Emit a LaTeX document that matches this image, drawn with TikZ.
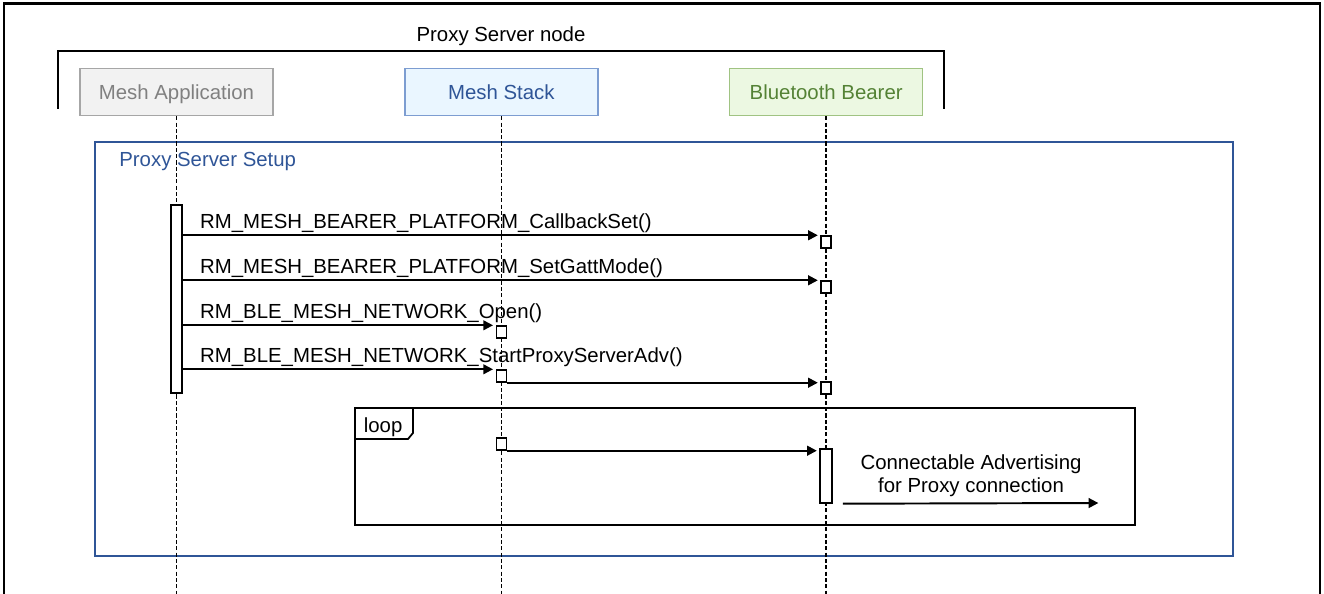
\documentclass[tikz,border=0pt]{standalone}
\usepackage{fontspec}
\setmainfont{Liberation Sans}
\usepackage{tikz}
\usetikzlibrary{
    positioning,
    arrows.meta,
    calc
}
\definecolor{setupBlue}{RGB}{47, 85, 151}
\definecolor{appGray}{RGB}{128, 128, 128}
\definecolor{appFill}{RGB}{242, 242, 242}
\definecolor{appLine}{RGB}{166, 166, 166}
\definecolor{stackBlue}{RGB}{47, 85, 151}
\definecolor{stackFill}{RGB}{234, 246, 255}
\definecolor{stackLine}{RGB}{125, 157, 209}
\definecolor{bearerGreen}{RGB}{84, 130, 53}
\definecolor{bearerFill}{RGB}{236, 248, 226}
\definecolor{bearerLine}{RGB}{160, 195, 130}

\begin{document}
\begin{tikzpicture}[x=0.02cm, y=-0.02cm, >={Triangle[length=5.5pt, width=5.5pt]},
        font=\fontsize{11.6}{13}\selectfont,
        headBox/.style={draw, line width=0.8pt, minimum width=3.86cm, minimum height=0.94cm, inner sep=0pt, text height=8.3pt, text depth=0pt},
        lifeLine/.style={dash pattern=on 2.3pt off 1.3pt, line width=0.8pt},
        execBox/.style={draw, fill=white, line width=0.8pt, minimum width=0.2cm, minimum height=0.24cm, inner sep=0pt},
        actBar/.style={draw, fill=white, line width=0.8pt, minimum width=0.22cm, inner sep=0pt},
        msg/.style={->, line width=1.1pt, shorten >=1.5pt},
        msgText/.style={anchor=base west, inner sep=0pt, xshift=0.33cm, yshift=0.14cm}
    ]
    \useasboundingbox (0,0) rectangle (1324,594);
    \coordinate (bottom) at (0,594);
    \coordinate (advEnd) at (1101,503);

    % Frames
    \draw[line width=1.2pt] (4,594) |- (1320,3.5) -- (1320,594);
    \draw[line width=1.1pt] (58,109) |- (944,51) -- (944,109);
    \node[anchor=north, inner sep=0pt] (nodeTitle) at (501,26) {Proxy Server node};
    \draw[setupBlue, line width=1pt] (95,142) rectangle (1233,556);
    \node[anchor=north west, inner sep=0pt, text=setupBlue] (setupTitle) at (119,151.5) {Proxy Server Setup};
    \draw[line width=1pt] (355,408) rectangle (1135,525);
    \draw[line width=1pt] (355,439) -- (408,439) -- (413,433) -- (413,408);
    \node[anchor=north west, inner sep=0pt] (loopTitle) at (363.5,417.5) {loop};

    % Participants
    \node[headBox, fill=appFill, draw=appLine, text=appGray] (app) at (176.5,92) {Mesh Application};
    \node[headBox, fill=stackFill, draw=stackLine, text=stackBlue, right=2.61cm of app] (stack) {Mesh Stack};
    \node[headBox, fill=bearerFill, draw=bearerLine, text=bearerGreen, right=2.61cm of stack] (bearer) {Bluetooth Bearer};

    % Lifelines
    \foreach \p in {app, stack, bearer}
        \draw[lifeLine] (\p.south) -- (\p.south |- bottom);

    % Activations
    \node[actBar, minimum height=3.76cm] (appBar) at (app |- 0,299) {};
    \node[execBox] (cbBox) at (bearer |- 0,242) {};
    \node[execBox] (gattBox) at (bearer |- 0,287) {};
    \node[execBox] (openBox) at (stack |- 0,332) {};
    \node[execBox] (advBox) at (stack |- 0,376) {};
    \node[execBox] (advBtBox) at (bearer |- 0,388) {};
    \node[execBox] (loopBox) at (stack |- 0,444) {};
    \node[actBar, minimum width=0.24cm, minimum height=1.08cm] (btBar) at (bearer |- 0,476) {};

    % Messages
    \draw[msg] (appBar.east |- cbBox.north) -- (cbBox.north west)
        node[msgText, pos=0] {RM\_MESH\_BEARER\_PLATFORM\_CallbackSet()};
    \draw[msg] (appBar.east |- gattBox.north) -- (gattBox.north west)
        node[msgText, pos=0] {RM\_MESH\_BEARER\_PLATFORM\_SetGattMode()};
    \draw[msg] (appBar.east |- openBox.north) -- (openBox.north west)
        node[msgText, pos=0] {RM\_BLE\_MESH\_NETWORK\_Open()};
    \draw[msg] (appBar.east |- advBox.north) -- (advBox.north west)
        node[msgText, pos=0] {RM\_BLE\_MESH\_NETWORK\_StartProxyServerAdv()};
    \draw[msg] (advBox.south east) -- (advBox.south east -| advBtBox.west);

    % Loop
    \draw[msg] (loopBox.south east) -- (loopBox.south east -| btBar.west);
    \draw[msg] ([xshift=0.2cm]btBar.south east) -- (advEnd);
    \node[anchor=north, inner sep=0pt, align=center] (advText) at (971,454.5) {Connectable Advertising\\for Proxy connection};
\end{tikzpicture}
\end{document}
